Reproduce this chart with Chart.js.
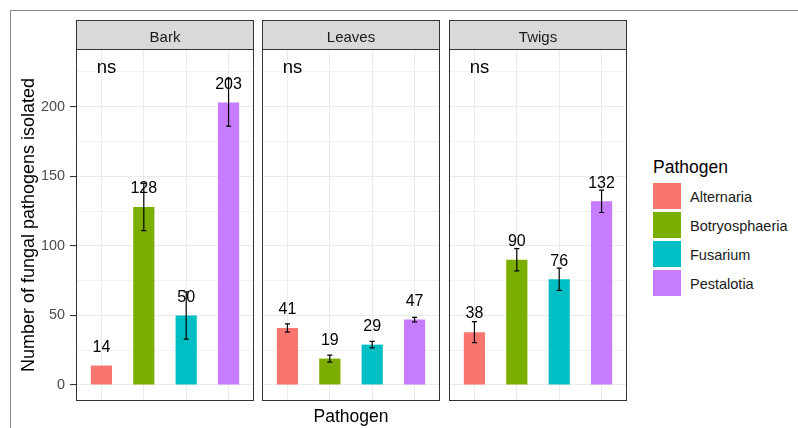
<!DOCTYPE html>
<html>
<head>
<meta charset="utf-8">
<script src="https://cdn.jsdelivr.net/npm/chart.js@4.4.1/dist/chart.umd.min.js"></script>
<style>
  html, body { margin: 0; padding: 0; background: #fff; }
  body { width: 798px; height: 428px; position: relative; overflow: hidden;
         font-family: "Liberation Sans", Arial, sans-serif; }
  #frame { position: absolute; left: 10px; top: 10px; width: 800px; height: 430px;
           border-left: 1px solid #8a8a8a; border-top: 1px solid #8a8a8a; }
  canvas { position: absolute; }
  #legend { position: absolute; left: 653px; top: 156px; }
  .lg-title { font-size: 17.5px; color: #000; line-height: 22px; height: 25.5px; }
  .lg-row { height: 29px; display: flex; align-items: center; }
  .lg-key { width: 28px; height: 26px; }
  .lg-label { font-size: 14.5px; color: #1a1a1a; margin-left: 9px; padding-top: 2px; }
</style>
</head>
<body>
<div id="frame"></div>
<div id="legend"></div>

<script>
// ─── DATA ─────────────────────────────────────────────────────
const pathogens = ['Alternaria', 'Botryosphaeria', 'Fusarium', 'Pestalotia'];
const tissues   = ['Bark', 'Leaves', 'Twigs'];

const barkCounts   = [14, 128, 50, 203];
const leavesCounts = [41, 19, 29, 47];
const twigsCounts  = [38, 90, 76, 132];

// half-length of the error bars (null = none drawn)
const barkErr   = [null, 17, 17, 17];
const leavesErr = [3, 2.5, 2.3, 1.6];
const twigsErr  = [7.5, 8, 8, 8];

const sigLabels = ['ns', 'ns', 'ns'];

const yMajorTicks = [0, 50, 100, 150, 200];
const yMinorTicks = [25, 75, 125, 175, 225];

// ─── STYLE / LAYOUT ───────────────────────────────────────────
const barColors  = ['#F8766D', '#7CAE00', '#00BFC4', '#C77CFF'];
const panelLeft  = [76, 262, 449];
const panelRight = [254, 440, 627];
const FONT = '"Liberation Sans", Arial, sans-serif';

const counts = [barkCounts, leavesCounts, twigsCounts];
const errors = [barkErr, leavesErr, twigsErr];
const yGridTicks = [...yMajorTicks, ...yMinorTicks].sort((a, b) => a - b);

Chart.defaults.font.family = FONT;

// ─── PANEL DECORATION: strip, border, labels, error bars ──────
function facetPlugin(p) {
    return {
        id: 'facet' + p,
        afterDatasetsDraw(chart) {
            const { ctx, scales: { x, y } } = chart;
            ctx.save();

            // value labels
            ctx.fillStyle = '#000';
            ctx.font = '16px ' + FONT;
            ctx.textAlign = 'center';
            ctx.textBaseline = 'alphabetic';
            counts[p].forEach((v, i) => {
                ctx.fillText(String(v), x.getPixelForValue(i + 1), y.getPixelForValue(v + 9.8));
            });

            // error bars
            ctx.strokeStyle = '#000';
            ctx.lineWidth = 1.2;
            errors[p].forEach((e, i) => {
                if (e == null) return;
                const v  = counts[p][i];
                const cx = x.getPixelForValue(i + 1);
                const hw = x.getPixelForValue(i + 1.06) - cx;
                const t  = y.getPixelForValue(v + e);
                const b  = y.getPixelForValue(v - e);
                ctx.beginPath();
                ctx.moveTo(cx, t); ctx.lineTo(cx, b);
                ctx.moveTo(cx - hw, t); ctx.lineTo(cx + hw, t);
                ctx.moveTo(cx - hw, b); ctx.lineTo(cx + hw, b);
                ctx.stroke();
            });

            // significance
            ctx.font = '18.5px ' + FONT;
            ctx.fillText(sigLabels[p], x.getPixelForValue(1.12), y.getPixelForValue(224));
            ctx.restore();
        },
        afterDraw(chart) {
            const { ctx, chartArea: a } = chart;
            const L = Math.round(a.left) + 0.5;
            const R = Math.round(a.right) - 0.5;
            const T = Math.round(a.top) + 0.5;
            const B = Math.round(a.bottom) - 0.5;
            ctx.save();
            // strip
            ctx.fillStyle = '#d9d9d9';
            ctx.fillRect(L, 0.5, R - L, T - 0.5);
            ctx.strokeStyle = '#333';
            ctx.lineWidth = 1;
            ctx.strokeRect(L, 0.5, R - L, T - 0.5);
            ctx.fillStyle = '#1a1a1a';
            ctx.font = '15px ' + FONT;
            ctx.textAlign = 'center';
            ctx.textBaseline = 'middle';
            ctx.fillText(tissues[p], (a.left + a.right) / 2, 17.5);
            // panel border
            ctx.strokeRect(L, T, R - L, B - T);
            ctx.restore();
        }
    };
}

// ─── ONE CHART PER FACET ──────────────────────────────────────
function makeChart(p) {
    const first = p === 0;
    const mid   = p === 1;
    const canvasLeft = first ? 0 : panelLeft[p] - 6;
    const canvasW    = panelRight[p] + 6 - canvasLeft;

    const cv = document.createElement('canvas');
    cv.width = canvasW;
    cv.height = 408;
    cv.style.left = canvasLeft + 'px';
    cv.style.top = '20px';
    document.body.appendChild(cv);

    return new Chart(cv, {
        type: 'bar',
        data: {
            datasets: [{
                data: counts[p].map((v, i) => ({ x: i + 1, y: v })),
                backgroundColor: barColors,
                barPercentage: 0.5,
                categoryPercentage: 1
            }]
        },
        options: {
            responsive: false,
            animation: false,
            events: [],
            layout: { padding: { top: 29, bottom: 0, left: first ? 0 : 6, right: 6 } },
            plugins: { legend: { display: false }, tooltip: { enabled: false } },
            scales: {
                x: {
                    type: 'linear', min: 0.4, max: 4.6, offset: false, bounds: 'data',
                    afterBuildTicks: s => { s.ticks = pathogens.map((_, i) => ({ value: i + 1 })); },
                    afterFit: s => { s.height = 27; },
                    ticks: { display: false },
                    grid: { color: '#ebebeb', lineWidth: 1, drawTicks: false, offset: false },
                    border: { display: false },
                    title: { display: mid, text: 'Pathogen', color: '#000',
                             font: { size: 17.5 }, padding: { top: 0, bottom: 0 } }
                },
                y: {
                    min: -11.5, max: 241.5, bounds: 'data',
                    afterBuildTicks: s => { s.ticks = yGridTicks.map(v => ({ value: v })); },
                    afterFit: s => { s.width = first ? 76 : 0; },
                    ticks: {
                        display: first, color: '#4d4d4d', font: { size: 14.4 }, padding: 5,
                        callback: v => yMajorTicks.includes(v) ? String(v) : ''
                    },
                    grid: {
                        color: '#ebebeb',
                        lineWidth: c => yMajorTicks.includes(c.tick.value) ? 1.1 : 0.6,
                        drawTicks: first, tickLength: 6, tickWidth: 1.1,
                        tickColor: c => yMajorTicks.includes(c.tick.value) ? '#333' : 'rgba(0,0,0,0)'
                    },
                    border: { display: false },
                    title: { display: first, text: 'Number of fungal pathogens isolated', color: '#000',
                             font: { size: 18 }, padding: { top: 18, bottom: 0 } }
                }
            }
        },
        plugins: [facetPlugin(p)]
    });
}

// ─── LEGEND ───────────────────────────────────────────────────
function buildLegend() {
    const el = document.getElementById('legend');
    el.innerHTML = '<div class="lg-title">Pathogen</div>' + pathogens.map((name, i) => `
        <div class="lg-row">
            <div class="lg-key" style="background:${barColors[i]}"></div>
            <div class="lg-label">${name}</div>
        </div>`).join('');
}

// ─── INIT ─────────────────────────────────────────────────────
tissues.forEach((_, p) => makeChart(p));
buildLegend();
</script>
</body>
</html>
